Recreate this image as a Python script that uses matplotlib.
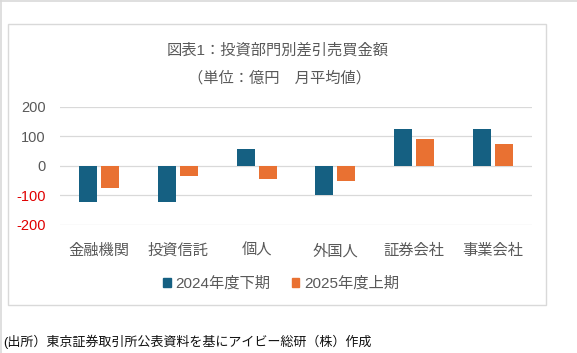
import numpy as np
import matplotlib
matplotlib.use('Agg')
from matplotlib import pyplot as plt
from matplotlib.patches import Patch, Rectangle
from matplotlib.lines import Line2D

plt.rcParams['font.family'] = ['Liberation Sans', 'Noto Sans CJK JP', 'DejaVu Sans']

categories = ['金融機関', '投資信託', '個人', '外国人', '証券会社', '事業会社']
h2_2024 = [-123, -123, 58, -97, 123, 123]
h1_2025 = [-76, -35, -45, -52, 92, 75]
series_names = ['2024年度下期', '2025年度上期']
y_ticks = [-200, -100, 0, 100, 200]

blue = '#156082'
orange = '#e97132'
text_gray = '#595959'
grid_gray = '#d9d9d9'

W, H = 577, 353
fig = plt.figure(figsize=(W / 100, H / 100), dpi=100)

# outer frame (top and left edges only) and chart box
fig.add_artist(Line2D([0, 1], [1 - 0.5 / H, 1 - 0.5 / H], color=grid_gray, lw=1.2))
fig.add_artist(Line2D([0.8 / W, 0.8 / W], [0, 1], color=grid_gray, lw=1.2))
fig.add_artist(Rectangle((8 / W, 1 - 305 / H), (546 - 8) / W, (305 - 24) / H,
                         fill=False, edgecolor=grid_gray, lw=1.0))

ax = fig.add_axes([60 / W, 1 - 225 / H, (532 - 60) / W, (225 - 106.7) / H])
x = np.arange(len(categories))
bw = 0.23
ax.bar(x - 0.14, h2_2024, bw, color=blue, zorder=3)
ax.bar(x + 0.14, h1_2025, bw, color=orange, zorder=3)

ax.set_xlim(-0.5, len(categories) - 0.5)
ax.set_ylim(-200, 200)
ax.set_yticks(y_ticks)
ax.set_yticklabels([str(v) for v in y_ticks])
for lab, v in zip(ax.get_yticklabels(), y_ticks):
    lab.set_color('#e00000' if v < 0 else text_gray)
ax.set_xticks(x)
ax.set_xticklabels(categories, color=text_gray)
ax.tick_params(axis='y', length=0, pad=10.5, labelsize=10.5)
ax.tick_params(axis='x', length=0, pad=13.5, labelsize=11)
ax.grid(axis='y', color=grid_gray, lw=0.9, zorder=0)
for s in ax.spines.values():
    s.set_visible(False)

fig.text(278 / W, 1 - 50 / H, '図表1：投資部門別差引売買金額', ha='center', va='center',
         fontsize=11, color=text_gray)
fig.text(280 / W, 1 - 78 / H, '（単位：億円　月平均値）', ha='center', va='center',
         fontsize=11, color=text_gray)

handles = [Patch(color=blue), Patch(color=orange)]
fig.legend(handles, series_names, loc='center', bbox_to_anchor=(281 / W, 1 - 283.5 / H),
           ncol=2, frameon=False, fontsize=11, labelcolor=text_gray,
           handlelength=0.5, handleheight=0.5, handletextpad=0.3, columnspacing=1.4)

fig.text(3 / W, 1 - 341.5 / H, '(出所）東京証券取引所公表資料を基にアイビー総研（株）作成',
         ha='left', va='center', fontsize=9.4, color='#111111')

fig.savefig('out.png', dpi=100, facecolor='white')
